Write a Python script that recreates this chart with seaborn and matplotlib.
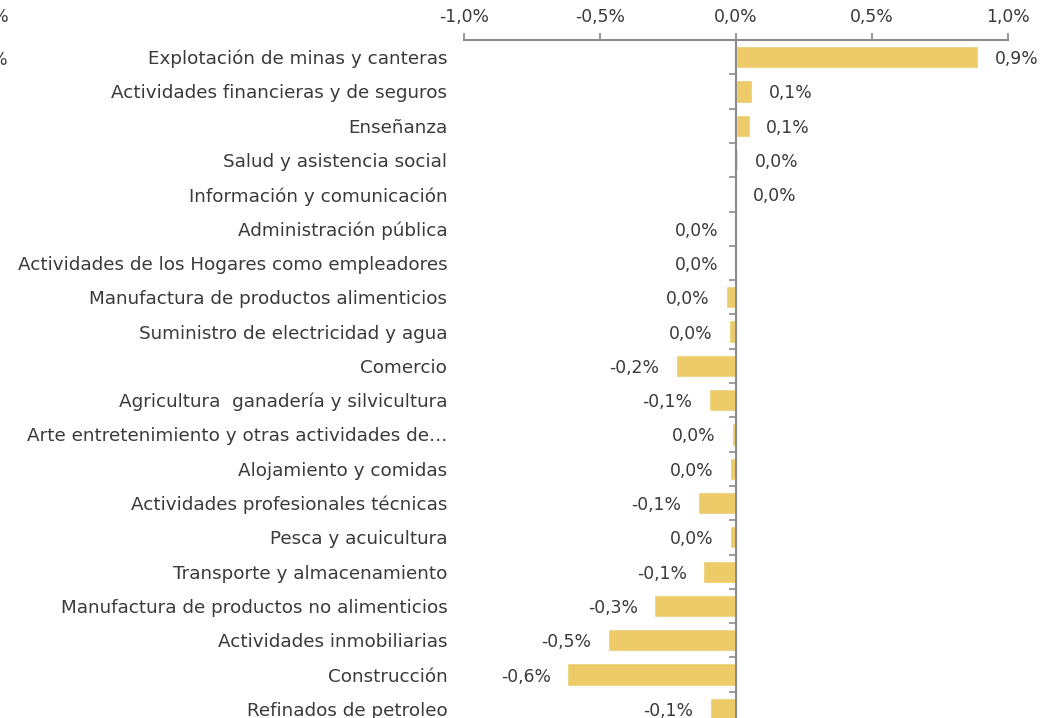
import numpy as np
import pandas as pd
import matplotlib
matplotlib.use("Agg")
import matplotlib.pyplot as plt
from matplotlib.ticker import FuncFormatter
import seaborn as sns

sectors = [
    "Explotación de minas y canteras",
    "Actividades financieras y de seguros",
    "Enseñanza",
    "Salud y asistencia social",
    "Información y comunicación",
    "Administración pública",
    "Actividades de los Hogares como empleadores",
    "Manufactura de productos alimenticios",
    "Suministro de electricidad y agua",
    "Comercio",
    "Agricultura  ganadería y silvicultura",
    "Arte entretenimiento y otras actividades de…",
    "Alojamiento y comidas",
    "Actividades profesionales técnicas",
    "Pesca y acuicultura",
    "Transporte y almacenamiento",
    "Manufactura de productos no alimenticios",
    "Actividades inmobiliarias",
    "Construcción",
    "Refinados de petroleo",
]
values = [0.89, 0.06, 0.05, 0.008, 0.002, -0.003, -0.002, -0.037, -0.026, -0.22,
          -0.10, -0.015, -0.022, -0.14, -0.022, -0.12, -0.30, -0.47, -0.62, -0.096]
x_ticks = [-1.0, -0.5, 0.0, 0.5, 1.0]

BAR = "#EECB69"
GRID = "#8C8C8C"
TXT = "#3A3A3A"
FS = 12.4
FS_CAT = 13.2

sns.set_theme(style="white")
plt.rcParams["font.family"] = ["DejaVu Sans"]

fig = plt.figure(figsize=(10.42, 7.18), dpi=100)
ax = fig.add_axes([464 / 1042, 1 - 726 / 718, 544 / 1042, 686 / 718])

df = pd.DataFrame({"sector": sectors, "value": values})
sns.barplot(data=df, x="value", y="sector", color=BAR, saturation=1, width=0.65, ax=ax)

ax.set_xlim(-1, 1)
ax.set_ylim(len(sectors) - 0.5, -0.5)
ax.set_xlabel("")
ax.set_ylabel("")

def pct(v):
    r = round(v, 1)
    if r == 0:
        r = 0.0
    return f"{r:.1f}%".replace(".", ",")

ax.xaxis.tick_top()
ax.set_xticks(x_ticks)
ax.xaxis.set_major_formatter(FuncFormatter(lambda v, p: pct(v)))
ax.tick_params(axis="x", direction="out", length=5, width=1.2, color=GRID,
               labelsize=FS, labelcolor=TXT, pad=5)
ax.tick_params(axis="y", length=0, pad=12, labelsize=FS_CAT, labelcolor=TXT)

for s in ["left", "right", "bottom"]:
    ax.spines[s].set_visible(False)
ax.spines["top"].set_color(GRID)
ax.spines["top"].set_linewidth(1.5)

# zero line with category separators
sec = ax.secondary_yaxis(0.5)
sec.set_zorder(5)
sec.set_yticks(np.arange(len(sectors) + 1) - 0.5)
sec.set_yticklabels([])
sec.yaxis.set_ticks_position("left")
sec.tick_params(axis="y", direction="out", length=5, width=1.2, color=GRID)
for s in sec.spines.values():
    s.set_visible(False)
sec.spines["left"].set_visible(True)
sec.spines["left"].set_color(GRID)
sec.spines["left"].set_linewidth(1.5)

for i, v in enumerate(values):
    pos = v >= 0
    ax.annotate(pct(v), xy=(v, i), xytext=(12 if pos else -12, 0),
                textcoords="offset points", ha="left" if pos else "right",
                va="center_baseline", fontsize=FS, color=TXT)

# partial labels from neighbouring chart at the left edge
fig.text(9 / 1042, 1 - 15 / 718, "1,0%", ha="right", va="center_baseline", fontsize=FS, color=TXT)
fig.text(9 / 1042, 1 - 58 / 718, "0,0%", ha="right", va="center_baseline", fontsize=FS, color=TXT)

fig.savefig("out.png", dpi=100)
